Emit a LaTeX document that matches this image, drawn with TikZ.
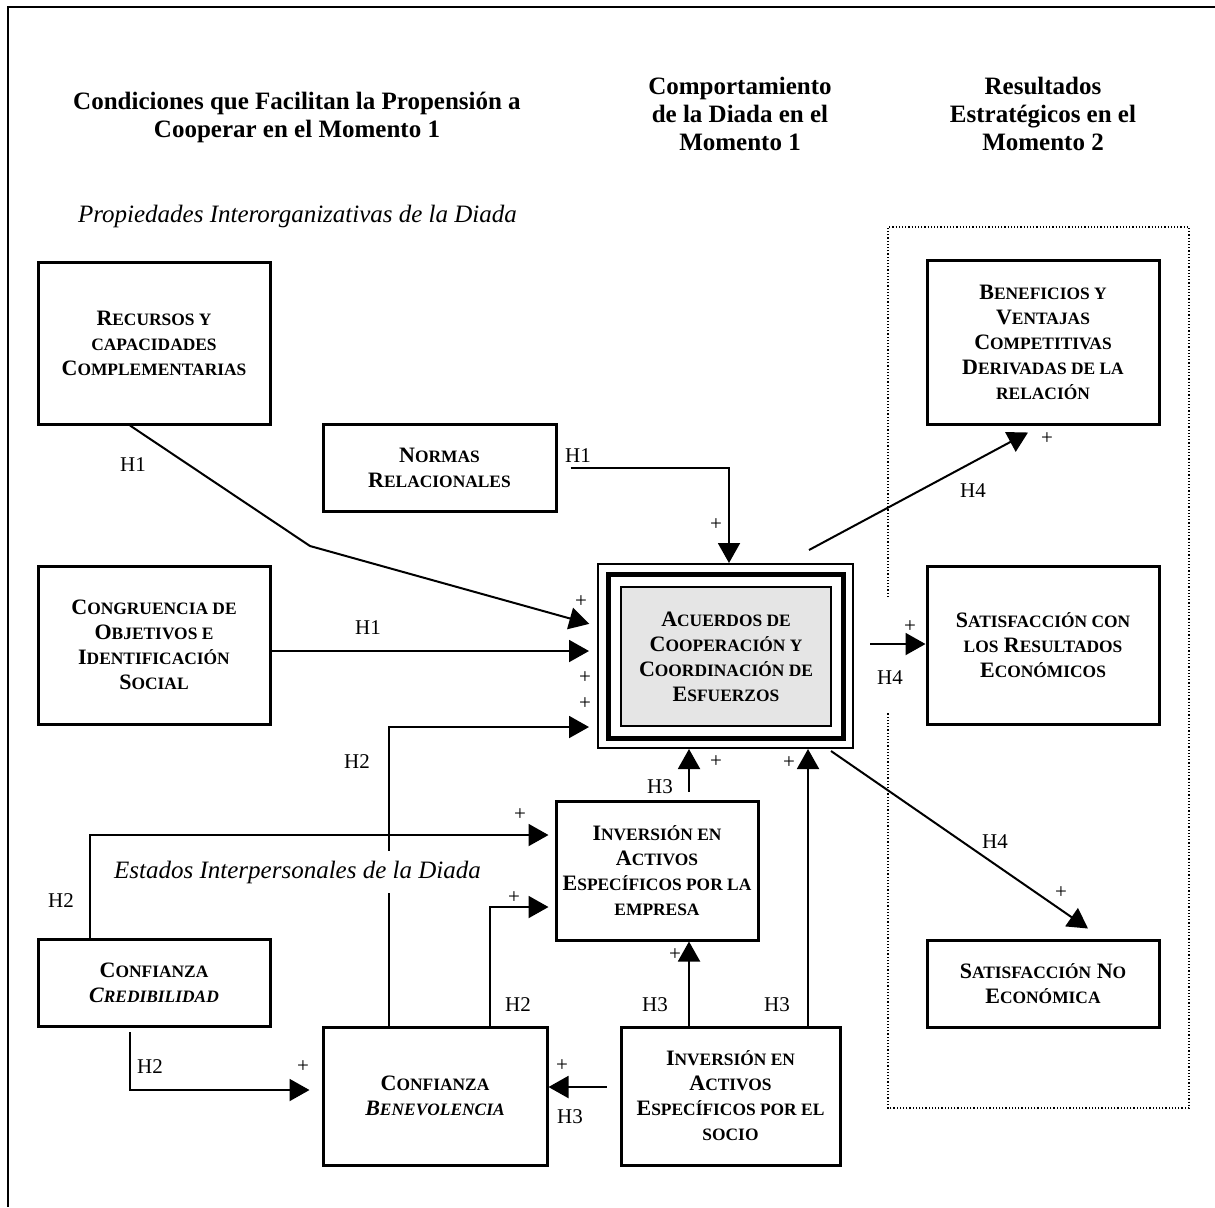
\documentclass[tikz,border=0pt]{standalone}
\usepackage{fontspec}
\setmainfont{Liberation Serif}
\usetikzlibrary{arrows.meta}
% reduced capitals used for the small-caps box titles
\newcommand\sk[1]{{\fontsize{8.7}{9}\selectfont #1}}
\begin{document}
\begin{tikzpicture}[x=0.5pt,y=-0.5pt,
  box/.style={draw,line width=1.5pt,align=center,inner sep=0pt,
    font=\bfseries\fontsize{11}{12.5}\selectfont},
  conn/.style={line width=1pt},
  arr/.style={conn,-{Triangle[length=10pt,width=11pt]}},
  lab/.style={font=\fontsize{10.5}{12}\selectfont,inner sep=0pt},
  head/.style={font=\bfseries\fontsize{12.5}{14}\selectfont,align=center},
  sub/.style={font=\itshape\fontsize{12.5}{14}\selectfont}]

\useasboundingbox (0,0) rectangle (1215,1207);
\draw[line width=0.8pt] (1215,7) -- (8,7) -- (8,1207);

% column headings
\node[head] (hA) at (297,117) {Condiciones que Facilitan la Propensión a\\Cooperar en el Momento 1};
\node[head] (hB) at (740,114) {Comportamiento\\de la Diada en el\\Momento 1};
\node[head] (hC) at (1043,114) {Resultados\\Estratégicos en el\\Momento 2};
\node[sub] (sA) at (297.5,216) {Propiedades Interorganizativas de la Diada};

% results group
\draw[densely dotted,line width=0.6pt] (888,597) -- (888,227) -- (1189,227) -- (1189,1108) -- (888,1108) -- (888,712);

% boxes
\node[box,minimum width=116pt,minimum height=81pt] (rec) at (154,343)
  {R\sk{ECURSOS Y}\\\sk{CAPACIDADES}\\C\sk{OMPLEMENTARIAS}};
\node[box,minimum width=116.5pt,minimum height=43.5pt] (nor) at (439.5,467.5)
  {N\sk{ORMAS}\\R\sk{ELACIONALES}};
\node[box,minimum width=116pt,minimum height=79pt] (con) at (154,645)
  {C\sk{ONGRUENCIA DE}\\O\sk{BJETIVOS E}\\I\sk{DENTIFICACIÓN}\\S\sk{OCIAL}};
\node[draw,line width=1pt,minimum width=127.5pt,minimum height=92pt] (acuo) at (725.5,656) {};
\node[draw,line width=2.5pt,minimum width=117.5pt,minimum height=82pt] (acum) at (725.5,656) {};
\node[box,line width=1pt,fill=black!10,minimum width=105pt,minimum height=69.5pt] (acu) at (726,656.5)
  {A\sk{CUERDOS DE}\\C\sk{OOPERACIÓN Y}\\C\sk{OORDINACIÓN DE}\\E\sk{SFUERZOS}};
\node[box,minimum width=116pt,minimum height=82pt] (ben) at (1043,342)
  {B\sk{ENEFICIOS Y}\\V\sk{ENTAJAS}\\C\sk{OMPETITIVAS}\\D\sk{ERIVADAS DE LA}\\\sk{RELACIÓN}};
\node[box,minimum width=116pt,minimum height=79pt] (sce) at (1043,645)
  {S\sk{ATISFACCIÓN CON}\\\sk{LOS} R\sk{ESULTADOS}\\E\sk{CONÓMICOS}};
\node[box,minimum width=116pt,minimum height=43.5pt] (sne) at (1043,983.5)
  {S\sk{ATISFACCIÓN} N\sk{O}\\E\sk{CONÓMICA}};
\node[box,minimum width=101pt,minimum height=69.5pt] (ive) at (657,870.5)
  {I\sk{NVERSIÓN EN}\\A\sk{CTIVOS}\\E\sk{SPECÍFICOS POR LA}\\\sk{EMPRESA}};
\node[box,minimum width=116pt,minimum height=43.5pt] (cre) at (154,983)
  {C\sk{ONFIANZA}\\\textit{C\sk{REDIBILIDAD}}};
\node[box,minimum width=112pt,minimum height=69pt] (bnv) at (435,1096)
  {C\sk{ONFIANZA}\\\textit{B\sk{ENEVOLENCIA}}};
\node[box,minimum width=109.5pt,minimum height=69pt] (ivs) at (730.5,1096)
  {I\sk{NVERSIÓN EN}\\A\sk{CTIVOS}\\E\sk{SPECÍFICOS POR EL}\\\sk{SOCIO}};

% connectors
\coordinate (bend) at (310,546);
\draw[arr,shorten >=4pt] ([xshift=-12pt]rec.south) -- (bend) -- ([yshift=15pt]acuo.west);
\draw[arr,shorten >=4pt] ([yshift=-3pt]con.east) -- ([yshift=2.5pt]acuo.west);
\draw[arr] ([xshift=6.5pt]nor.east) -| ([xshift=1.75pt]acuo.north);
\draw[arr,shorten >=4pt] ([xshift=-23pt]bnv.north) |- ([yshift=-35.5pt]acuo.west);
\draw[arr,shorten >=3pt] ([xshift=-32pt]cre.north) |- ([yshift=17.75pt]ive.west);
\draw[arr,shorten >=6pt,shorten <=2pt] ([xshift=-12pt]cre.south) |- ([yshift=3pt]bnv.west);
\draw[arr,shorten >=3pt] ([xshift=27.5pt]bnv.north) |- ([yshift=-18.25pt]ive.west);
\draw[arr] ([xshift=-6.5pt,yshift=4.5pt]ivs.west) -- ([yshift=4.5pt]bnv.east);
\draw[arr] ([xshift=-20.75pt]ivs.north) -- ([xshift=16pt]ive.south);
\draw[arr] ([xshift=38.75pt]ivs.north) -- ([xshift=41.25pt]acuo.south);
\draw[arr] ([xshift=16pt,yshift=4pt]ive.north) -- ([xshift=-18.25pt]acuo.south);
\draw[arr] ([xshift=-22.5pt,yshift=6.5pt]acuo.north east) -- ([xshift=-7.5pt,yshift=-3.5pt]ben.south);
\draw[arr] ([xshift=8pt,yshift=6pt]acuo.east) -- ([yshift=0.5pt]sce.west);
\draw[arr] ([xshift=-11.5pt,yshift=-1pt]acuo.south east) -- ([xshift=22.5pt,yshift=5pt]sne.north);

\node[sub,fill=white,inner xsep=2pt,inner ysep=5pt] (sB) at (297.5,872) {Estados Interpersonales de la Diada};

% hypothesis labels
\node[lab] (l1) at (133,465) {H1};
\node[lab] (l2) at (578,456) {H1};
\node[lab] (l3) at (368,628) {H1};
\node[lab] (l4) at (357,762) {H2};
\node[lab] (l5) at (61,901) {H2};
\node[lab] (l6) at (150,1067) {H2};
\node[lab] (l7) at (518,1005) {H2};
\node[lab] (l8) at (570,1117) {H3};
\node[lab] (l9) at (655,1005) {H3};
\node[lab] (l10) at (777,1005) {H3};
\node[lab] (l11) at (660,787) {H3};
\node[lab] (l12) at (973,491) {H4};
\node[lab] (l13) at (890,678) {H4};
\node[lab] (l14) at (995,842) {H4};

% signs
\node[lab] (p1) at (581,602) {+};
\node[lab] (p2) at (585,678) {+};
\node[lab] (p3) at (585,704) {+};
\node[lab] (p4) at (716,525) {+};
\node[lab] (p5) at (520,815) {+};
\node[lab] (p6) at (514,898) {+};
\node[lab] (p7) at (303,1067) {+};
\node[lab] (p8) at (562,1066) {+};
\node[lab] (p9) at (675,955) {+};
\node[lab] (p10) at (716,762) {+};
\node[lab] (p11) at (789,763) {+};
\node[lab] (p12) at (1047,439) {+};
\node[lab] (p13) at (910,627) {+};
\node[lab] (p14) at (1061,893) {+};
\end{tikzpicture}
\end{document}
